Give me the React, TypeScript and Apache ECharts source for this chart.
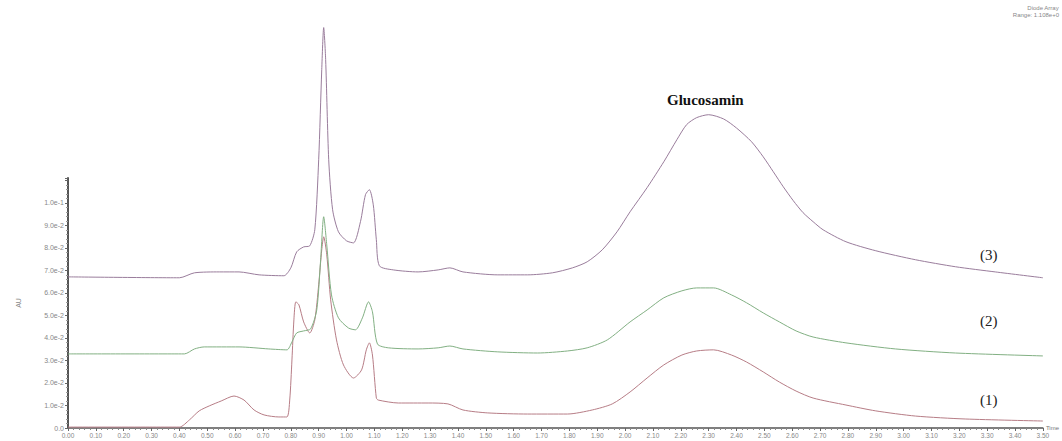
import React, { useEffect, useRef } from "react";
import * as echarts from "echarts";

// Retention times (min) and absorbance (AU)
const trace1Time = [0, 0.293, 0.4, 0.436, 0.471, 0.507, 0.55, 0.596, 0.632, 0.668, 0.704, 0.757, 0.786, 0.796, 0.804, 0.811, 0.818, 0.829, 0.846, 0.868, 0.886, 0.9, 0.911, 0.918, 0.929, 0.943, 0.964, 0.989, 1.025, 1.054, 1.071, 1.082, 1.093, 1.107, 1.114, 1.186, 1.293, 1.364, 1.418, 1.507, 1.65, 1.793, 1.882, 1.954, 2.018, 2.079, 2.139, 2.204, 2.257, 2.318, 2.382, 2.436, 2.496, 2.554, 2.614, 2.675, 2.793, 2.9, 3.043, 3.221, 3.5];
const trace1Value = [0.0004, 0.0004, 0.0004, 0.0036, 0.0076, 0.0098, 0.012, 0.0142, 0.0124, 0.008, 0.0058, 0.0049, 0.0049, 0.0124, 0.0302, 0.048, 0.056, 0.0547, 0.0471, 0.0422, 0.048, 0.0636, 0.0791, 0.0849, 0.0769, 0.0569, 0.0391, 0.028, 0.0222, 0.0258, 0.0347, 0.0378, 0.0324, 0.0133, 0.0124, 0.0111, 0.0111, 0.0107, 0.008, 0.0067, 0.0062, 0.0062, 0.008, 0.0107, 0.016, 0.0222, 0.028, 0.0324, 0.0342, 0.0347, 0.0324, 0.0293, 0.0249, 0.0204, 0.0164, 0.0133, 0.0102, 0.0076, 0.0053, 0.004, 0.0031];

const trace2Time = [0, 0.418, 0.454, 0.489, 0.614, 0.721, 0.786, 0.804, 0.821, 0.846, 0.871, 0.893, 0.907, 0.918, 0.929, 0.946, 0.971, 1.007, 1.032, 1.057, 1.079, 1.093, 1.111, 1.15, 1.257, 1.329, 1.371, 1.418, 1.543, 1.686, 1.793, 1.864, 1.936, 2.018, 2.079, 2.139, 2.204, 2.257, 2.318, 2.382, 2.436, 2.496, 2.554, 2.614, 2.675, 2.793, 2.971, 3.186, 3.5];
const trace2Value = [0.0329, 0.0329, 0.0351, 0.036, 0.036, 0.0351, 0.0347, 0.0382, 0.0422, 0.0431, 0.044, 0.0524, 0.0747, 0.0938, 0.0813, 0.0591, 0.0489, 0.0444, 0.0436, 0.0489, 0.056, 0.0516, 0.0373, 0.0356, 0.0351, 0.0356, 0.0364, 0.0351, 0.0338, 0.0333, 0.0342, 0.0356, 0.0391, 0.0471, 0.0524, 0.0578, 0.0609, 0.0622, 0.0622, 0.0591, 0.0556, 0.0511, 0.0471, 0.0431, 0.0404, 0.0378, 0.0351, 0.0333, 0.032];

const trace3Time = [0, 0.4, 0.454, 0.543, 0.614, 0.686, 0.775, 0.8, 0.821, 0.846, 0.868, 0.886, 0.9, 0.911, 0.918, 0.925, 0.936, 0.95, 0.971, 1.0, 1.025, 1.05, 1.068, 1.082, 1.096, 1.107, 1.118, 1.168, 1.257, 1.329, 1.371, 1.418, 1.543, 1.65, 1.739, 1.811, 1.864, 1.918, 1.971, 2.018, 2.079, 2.139, 2.186, 2.221, 2.257, 2.3, 2.354, 2.4, 2.454, 2.496, 2.532, 2.568, 2.604, 2.639, 2.675, 2.711, 2.793, 2.9, 3.043, 3.186, 3.329, 3.5];
const trace3Value = [0.0671, 0.0667, 0.0689, 0.0693, 0.0693, 0.068, 0.0676, 0.0711, 0.0782, 0.0804, 0.0809, 0.088, 0.1191, 0.1591, 0.1778, 0.1636, 0.1191, 0.0969, 0.0871, 0.0831, 0.0822, 0.0916, 0.1036, 0.1058, 0.0991, 0.0836, 0.072, 0.0702, 0.0693, 0.0702, 0.0711, 0.0693, 0.068, 0.068, 0.0689, 0.0711, 0.0738, 0.0791, 0.0871, 0.096, 0.1067, 0.1182, 0.128, 0.1347, 0.1378, 0.1391, 0.1372, 0.1332, 0.1271, 0.1204, 0.1138, 0.1071, 0.1009, 0.0956, 0.0916, 0.088, 0.0827, 0.0787, 0.0747, 0.0716, 0.0693, 0.0667];

const yLabelValues = [0, 0.01, 0.02, 0.03, 0.04, 0.05, 0.06, 0.07, 0.08, 0.09, 0.1];
const traceNames = ["(1)", "(2)", "(3)"];
const peakLabel = "Glucosamin";
const headerLines = ["Diode Array", "Range: 1.108e+0"];

const zip = (t: number[], v: number[]) => t.map((x, i) => [x, v[i]]);

function fmtY(v: number): string {
  if (Math.abs(v) < 1e-9) return "0.0";
  const e = Math.floor(Math.log10(v) + 1e-9);
  const m = v / Math.pow(10, e);
  return `${m.toFixed(1)}e${e}`;
}

export default function App() {
  const ref = useRef<HTMLDivElement>(null);
  useEffect(() => {
    if (!ref.current) return;
    const chart = echarts.init(ref.current, null, { renderer: "svg" });
    const serif = "'Liberation Serif', 'DejaVu Serif', serif";
    const lineColors = ["#b77d86", "#82b083", "#9a7d9c"];
    chart.setOption({
      animation: false,
      backgroundColor: "#ffffff",
      grid: { left: 68, right: 14, top: 178, bottom: 13, containLabel: false },
      xAxis: {
        type: "value",
        min: 0,
        max: 3.5,
        interval: 0.1,
        name: "Time",
        nameLocation: "end",
        nameGap: 3,
        nameTextStyle: { fontSize: 6, color: "#777", fontFamily: "Arial, sans-serif" },
        axisLine: { show: true, lineStyle: { color: "#555", width: 1.5 } },
        axisTick: { show: true, length: 3, lineStyle: { color: "#666" } },
        minorTick: { show: true, splitNumber: 5, length: 2, lineStyle: { color: "#888" } },
        axisLabel: {
          fontSize: 6.5,
          color: "#888",
          margin: 4,
          fontFamily: "Arial, sans-serif",
          formatter: (v: number) => v.toFixed(2),
        },
        splitLine: { show: false },
      },
      yAxis: {
        type: "value",
        min: 0,
        max: 0.111,
        interval: 0.01,
        name: "AU",
        nameLocation: "middle",
        nameRotate: 90,
        nameGap: 46,
        nameMoveOverlap: false,
        nameTextStyle: { fontSize: 7, color: "#888", fontFamily: "Arial, sans-serif" },
        axisLine: { show: true, lineStyle: { color: "#555", width: 2 } },
        axisTick: { show: true, length: 3, lineStyle: { color: "#666" } },
        minorTick: { show: true, splitNumber: 5, length: 2, lineStyle: { color: "#999" } },
        axisLabel: {
          fontSize: 7,
          color: "#888",
          margin: 4,
          fontFamily: "Arial, sans-serif",
          customValues: yLabelValues,
          formatter: (v: number) => fmtY(v),
        },
        splitLine: { show: false },
      },
      series: [
        { name: traceNames[0], data: zip(trace1Time, trace1Value), color: lineColors[0] },
        { name: traceNames[1], data: zip(trace2Time, trace2Value), color: lineColors[1] },
        { name: traceNames[2], data: zip(trace3Time, trace3Value), color: lineColors[2] },
      ].map((s) => ({
        type: "line",
        name: s.name,
        data: s.data,
        smooth: 0.25,
        symbol: "none",
        clip: false,
        lineStyle: { color: s.color, width: 1 },
      })),
      graphic: [
        {
          type: "text",
          left: 667,
          top: 92,
          style: { text: peakLabel, font: `bold 15px ${serif}`, fill: "#111" },
        },
        {
          type: "text",
          left: 980,
          top: 247,
          style: { text: traceNames[2], font: `15px ${serif}`, fill: "#222" },
        },
        {
          type: "text",
          left: 980,
          top: 313,
          style: { text: traceNames[1], font: `15px ${serif}`, fill: "#222" },
        },
        {
          type: "text",
          left: 980,
          top: 392,
          style: { text: traceNames[0], font: `15px ${serif}`, fill: "#222" },
        },
        {
          type: "text",
          right: 3,
          top: 5,
          style: { text: headerLines[0], font: "6px Arial, sans-serif", fill: "#888", align: "right" },
        },
        {
          type: "text",
          right: 3,
          top: 12,
          style: { text: headerLines[1], font: "6px Arial, sans-serif", fill: "#888", align: "right" },
        },
      ],
    });
    return () => chart.dispose();
  }, []);
  return (
    <div
      ref={ref}
      style={{ position: "absolute", left: 0, top: 0, width: 1062, height: 441 }}
    />
  );
}
